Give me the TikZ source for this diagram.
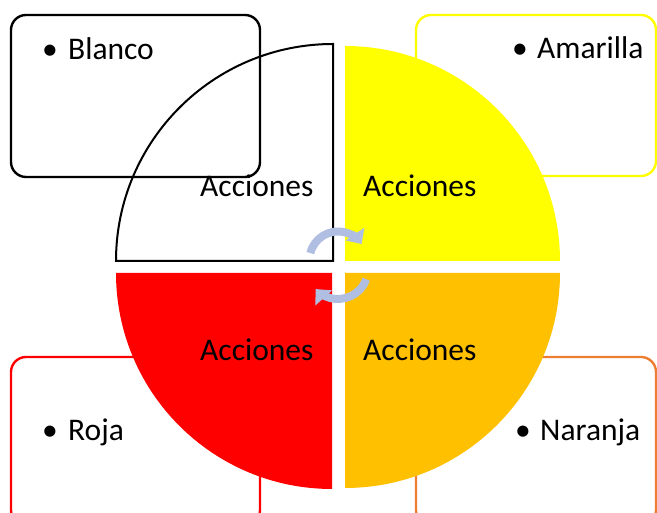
\documentclass[tikz,border=0pt]{standalone}
\usepackage{fontspec}
\setmainfont{Carlito}
\usetikzlibrary{arrows.meta}
\definecolor{qyellow}{HTML}{FFFF00}
\definecolor{qorange}{HTML}{FFC000}
\definecolor{qred}{HTML}{FF0000}
\definecolor{boxorange}{HTML}{ED7D31}
\definecolor{cyc}{HTML}{B0BEE2}
\tikzset{
  txt/.style={inner sep=0pt, font=\fontsize{31.5}{37}\selectfont},
  listbox/.style={rounded corners=15pt, line width=2.4pt},
  cyclearrow/.style={cyc, line width=8pt, -{Triangle[length=12pt,width=22pt]}},
}
\begin{document}
\begin{tikzpicture}[x=1pt,y=1pt]
\useasboundingbox (0,0) rectangle (657,513);
\clip (0,0) rectangle (657,513);
% list boxes (behind)
\draw[listbox, qyellow] (416,337) rectangle (656,498);
\draw[listbox, qred] (11,-12) rectangle (260,156);
\draw[listbox, boxorange] (416,-12) rectangle (656,156);
% quadrants
\fill[qyellow] (345,252) -- (345,467) arc (90:0:215) -- cycle;
\fill[qorange] (345,240) -- (560,240) arc (0:-90:215) -- cycle;
\fill[qred] (332,240) -- (332,24) arc (-90:-180:216) -- cycle;
\draw[line width=2pt, line join=miter] (333,252) -- (116,252) arc (180:90:217) -- cycle;
% black list box
\draw[listbox, black] (11,336) rectangle (260,498);
% texts
\node[txt, anchor=base west] (a1) at (200,316) {Acciones};
\node[txt, anchor=base west] (a2) at (363,316) {Acciones};
\node[txt, anchor=base west] (a3) at (200,152) {Acciones};
\node[txt, anchor=base west] (a4) at (363,152) {Acciones};
\node[txt, anchor=base] (b1) at (50,453) {•};
\node[txt, anchor=base west] (t1) at (68,453) {Blanco};
\node[txt, anchor=base] (b2) at (520,454) {•};
\node[txt, anchor=base west] (t2) at (537,454) {Amarilla};
\node[txt, anchor=base] (b3) at (50,72) {•};
\node[txt, anchor=base west] (t3) at (68,72) {Roja};
\node[txt, anchor=base] (b4) at (523,72) {•};
\node[txt, anchor=base west] (t4) at (540,72) {Naranja};
% cycle arrows
\coordinate (ctop) at (338,253);
\coordinate (cbot) at (338,244);
\draw[cyclearrow] (ctop) ++(166:28.5) arc (166:34:28.5);
\draw[cyclearrow] (cbot) ++(-20:30) arc (-20:-138:30);
\end{tikzpicture}
\end{document}
